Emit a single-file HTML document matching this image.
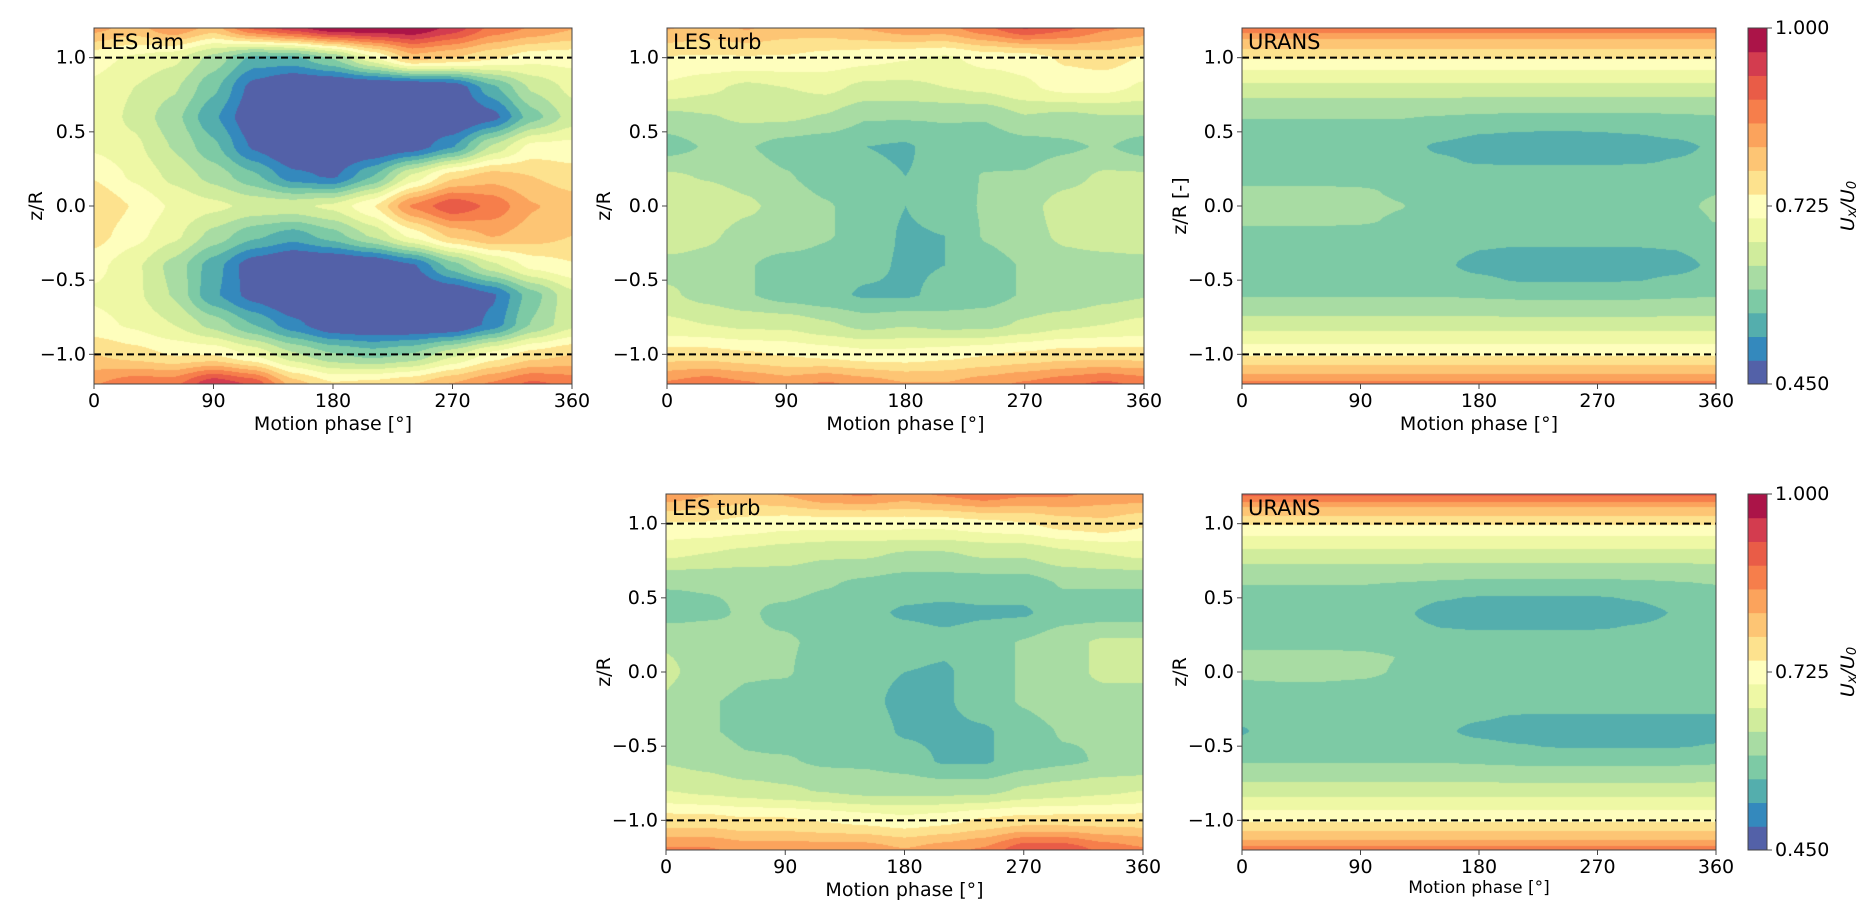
<!DOCTYPE html>
<html><head><meta charset="utf-8">
<style>
body{margin:0;background:#fff;width:1869px;height:918px;overflow:hidden;position:relative;font-family:"DejaVu Sans","Liberation Sans",sans-serif;}
canvas{position:absolute;}
svg{position:absolute;left:0;top:0;}
</style></head>
<body>
<svg id="ov" width="1869" height="918"></svg>
<script>
// ---- data ----
const levelColors=["#5361a8","#3489bd","#54aead","#7dcaa5","#a8dca3","#d0ec9c","#eef8a5","#fefebd","#fde28e","#fdc574","#fba35c","#f67e4b","#e95c47","#d33c4f","#ab1448"];
const vmin=0.45, vmax=1.0;
const phases=[0,30,60,90,120,150,180,210,240,270,300,330,360];
const zLES=[1.2,1.0,0.8,0.6,0.4,0.2,0.0,-0.2,-0.4,-0.6,-0.8,-1.0,-1.2];
const zURANS=[1.2,1.1,1.0,0.9,0.8,0.7,0.6,0.5,0.4,0.3,0.2,0.1,0.0,-0.1,-0.2,-0.3,-0.4,-0.5,-0.6,-0.7,-0.8,-0.9,-1.0,-1.1,-1.2];
const xTicks=[0,90,180,270,360];
const yTicks=[1.0,0.5,0.0,-0.5,-1.0];
const cbTicks=[1.000,0.725,0.450];
const lesLam=[
[0.83,0.80,0.85,0.80,0.90,0.95,1.0,1.0,1.0,0.95,0.88,0.85,0.82],
[0.72,0.70,0.68,0.62,0.55,0.55,0.60,0.70,0.80,0.78,0.75,0.72,0.72],
[0.70,0.67,0.64,0.57,0.47,0.43,0.43,0.43,0.43,0.45,0.55,0.64,0.68],
[0.70,0.66,0.61,0.53,0.45,0.43,0.43,0.43,0.43,0.43,0.47,0.58,0.65],
[0.70,0.68,0.63,0.57,0.48,0.43,0.43,0.44,0.46,0.52,0.64,0.72,0.72],
[0.74,0.70,0.66,0.62,0.57,0.50,0.48,0.56,0.68,0.77,0.80,0.78,0.76],
[0.78,0.74,0.70,0.68,0.66,0.66,0.68,0.74,0.86,0.92,0.88,0.82,0.80],
[0.76,0.72,0.68,0.62,0.57,0.54,0.58,0.64,0.72,0.79,0.82,0.80,0.78],
[0.72,0.68,0.62,0.54,0.46,0.43,0.43,0.44,0.48,0.58,0.66,0.72,0.74],
[0.70,0.68,0.63,0.53,0.47,0.43,0.43,0.43,0.43,0.44,0.48,0.58,0.66],
[0.72,0.70,0.67,0.62,0.56,0.50,0.45,0.44,0.44,0.44,0.50,0.60,0.66],
[0.78,0.76,0.74,0.74,0.70,0.64,0.60,0.58,0.60,0.66,0.72,0.76,0.78],
[0.85,0.88,0.88,0.96,0.92,0.80,0.75,0.76,0.78,0.82,0.86,0.90,0.88]];
const lesTurbTop=[
[0.82,0.80,0.82,0.80,0.80,0.82,0.84,0.84,0.88,0.93,0.90,0.86,0.84],
[0.74,0.74,0.74,0.74,0.73,0.72,0.71,0.70,0.72,0.72,0.75,0.76,0.74],
[0.70,0.68,0.66,0.67,0.68,0.66,0.66,0.67,0.68,0.70,0.72,0.72,0.70],
[0.62,0.63,0.64,0.64,0.63,0.60,0.60,0.60,0.60,0.63,0.62,0.63,0.63],
[0.58,0.60,0.60,0.58,0.57,0.56,0.555,0.58,0.57,0.58,0.59,0.60,0.58],
[0.64,0.63,0.62,0.60,0.58,0.57,0.56,0.57,0.60,0.60,0.62,0.64,0.64],
[0.66,0.66,0.64,0.62,0.60,0.58,0.56,0.58,0.60,0.62,0.65,0.66,0.66],
[0.66,0.64,0.62,0.62,0.60,0.58,0.555,0.56,0.60,0.62,0.64,0.65,0.66],
[0.62,0.62,0.60,0.58,0.58,0.57,0.555,0.56,0.58,0.60,0.62,0.62,0.62],
[0.64,0.62,0.60,0.58,0.57,0.555,0.555,0.57,0.58,0.60,0.60,0.62,0.63],
[0.68,0.67,0.66,0.66,0.64,0.62,0.63,0.62,0.62,0.64,0.66,0.67,0.68],
[0.76,0.76,0.75,0.74,0.73,0.72,0.72,0.73,0.74,0.75,0.76,0.76,0.76],
[0.86,0.88,0.86,0.84,0.86,0.84,0.82,0.82,0.84,0.86,0.88,0.90,0.88]];
const lesTurbBot=[
[0.84,0.82,0.80,0.82,0.85,0.86,0.84,0.86,0.88,0.86,0.86,0.84,0.84],
[0.74,0.74,0.73,0.72,0.72,0.72,0.72,0.72,0.73,0.74,0.76,0.77,0.75],
[0.68,0.67,0.66,0.65,0.64,0.64,0.63,0.63,0.64,0.64,0.66,0.67,0.68],
[0.60,0.60,0.60,0.61,0.60,0.59,0.58,0.58,0.58,0.58,0.60,0.60,0.60],
[0.58,0.59,0.60,0.59,0.58,0.57,0.555,0.55,0.555,0.555,0.58,0.58,0.58],
[0.63,0.62,0.60,0.60,0.59,0.58,0.58,0.57,0.58,0.60,0.62,0.64,0.64],
[0.64,0.62,0.60,0.60,0.58,0.57,0.56,0.555,0.58,0.60,0.62,0.64,0.64],
[0.63,0.60,0.59,0.58,0.58,0.57,0.55,0.555,0.58,0.60,0.62,0.62,0.62],
[0.62,0.60,0.59,0.58,0.58,0.58,0.555,0.55,0.555,0.58,0.60,0.60,0.60],
[0.63,0.62,0.60,0.60,0.59,0.59,0.58,0.555,0.555,0.58,0.59,0.60,0.60],
[0.67,0.66,0.65,0.64,0.63,0.62,0.62,0.62,0.62,0.64,0.65,0.66,0.67],
[0.76,0.76,0.75,0.75,0.74,0.73,0.72,0.73,0.75,0.76,0.76,0.76,0.76],
[0.86,0.86,0.84,0.84,0.84,0.84,0.82,0.84,0.86,0.92,0.92,0.88,0.86]];
const uransTop=[
[0.875,0.875,0.875,0.875,0.875,0.875,0.875,0.875,0.875,0.875,0.875,0.875,0.875],
[0.80,0.80,0.80,0.80,0.80,0.80,0.80,0.80,0.80,0.80,0.80,0.80,0.80],
[0.745,0.745,0.745,0.745,0.745,0.745,0.745,0.745,0.745,0.745,0.745,0.745,0.745],
[0.70,0.70,0.70,0.70,0.70,0.70,0.70,0.70,0.70,0.70,0.70,0.70,0.70],
[0.66,0.66,0.66,0.66,0.66,0.66,0.66,0.66,0.66,0.66,0.66,0.66,0.66],
[0.625,0.625,0.625,0.625,0.625,0.625,0.622,0.62,0.62,0.62,0.62,0.62,0.622],
[0.598,0.598,0.598,0.598,0.598,0.595,0.592,0.59,0.59,0.59,0.59,0.592,0.595],
[0.585,0.585,0.585,0.585,0.582,0.572,0.562,0.56,0.559,0.56,0.562,0.568,0.578],
[0.58,0.58,0.58,0.58,0.572,0.555,0.545,0.542,0.54,0.542,0.545,0.552,0.565],
[0.575,0.575,0.575,0.575,0.572,0.565,0.557,0.555,0.555,0.555,0.557,0.562,0.57],
[0.58,0.58,0.58,0.58,0.58,0.58,0.58,0.58,0.58,0.58,0.58,0.58,0.58],
[0.605,0.605,0.604,0.601,0.592,0.583,0.58,0.58,0.58,0.58,0.58,0.585,0.595],
[0.612,0.612,0.61,0.607,0.598,0.585,0.58,0.578,0.578,0.578,0.58,0.588,0.603],
[0.604,0.605,0.604,0.601,0.592,0.582,0.58,0.58,0.58,0.58,0.58,0.582,0.598],
[0.58,0.58,0.58,0.58,0.58,0.58,0.58,0.58,0.58,0.58,0.58,0.58,0.58],
[0.575,0.575,0.575,0.575,0.572,0.568,0.56,0.555,0.555,0.555,0.556,0.56,0.57],
[0.578,0.578,0.578,0.577,0.573,0.565,0.552,0.543,0.54,0.54,0.543,0.55,0.566],
[0.58,0.58,0.58,0.58,0.578,0.572,0.565,0.558,0.557,0.557,0.559,0.565,0.575],
[0.595,0.595,0.595,0.595,0.595,0.595,0.592,0.59,0.59,0.59,0.59,0.592,0.595],
[0.62,0.62,0.62,0.62,0.62,0.62,0.618,0.615,0.615,0.615,0.615,0.618,0.62],
[0.655,0.655,0.655,0.655,0.655,0.655,0.655,0.655,0.655,0.655,0.655,0.655,0.655],
[0.695,0.695,0.695,0.695,0.695,0.695,0.695,0.695,0.695,0.695,0.695,0.695,0.695],
[0.74,0.74,0.74,0.74,0.74,0.74,0.74,0.74,0.74,0.74,0.74,0.74,0.74],
[0.795,0.795,0.795,0.795,0.795,0.795,0.795,0.795,0.795,0.795,0.795,0.795,0.795],
[0.865,0.865,0.865,0.865,0.865,0.865,0.865,0.865,0.865,0.865,0.865,0.865,0.865]];
const uransBot=[
[0.90,0.90,0.90,0.90,0.90,0.90,0.90,0.90,0.90,0.90,0.90,0.90,0.90],
[0.81,0.81,0.81,0.81,0.81,0.81,0.81,0.81,0.81,0.81,0.81,0.81,0.81],
[0.745,0.745,0.745,0.745,0.745,0.745,0.745,0.745,0.745,0.745,0.745,0.745,0.745],
[0.70,0.70,0.70,0.70,0.70,0.70,0.70,0.70,0.70,0.70,0.70,0.70,0.70],
[0.66,0.66,0.66,0.66,0.66,0.66,0.66,0.66,0.66,0.66,0.66,0.66,0.66],
[0.625,0.625,0.625,0.625,0.625,0.622,0.62,0.62,0.62,0.62,0.62,0.622,0.625],
[0.598,0.598,0.598,0.598,0.596,0.593,0.59,0.59,0.59,0.59,0.592,0.595,0.598],
[0.585,0.585,0.585,0.583,0.575,0.562,0.558,0.557,0.557,0.558,0.562,0.572,0.58],
[0.58,0.58,0.58,0.576,0.565,0.55,0.543,0.54,0.54,0.543,0.55,0.562,0.575],
[0.575,0.575,0.575,0.574,0.568,0.56,0.557,0.557,0.557,0.558,0.562,0.568,0.575],
[0.585,0.585,0.585,0.585,0.58,0.58,0.58,0.58,0.58,0.58,0.58,0.58,0.582],
[0.607,0.608,0.608,0.604,0.596,0.584,0.58,0.58,0.58,0.58,0.58,0.582,0.592],
[0.605,0.607,0.607,0.603,0.594,0.583,0.58,0.58,0.578,0.578,0.58,0.582,0.59],
[0.59,0.592,0.592,0.59,0.585,0.58,0.58,0.58,0.58,0.58,0.58,0.58,0.582],
[0.578,0.58,0.58,0.58,0.58,0.58,0.58,0.58,0.58,0.58,0.58,0.578,0.575],
[0.565,0.57,0.575,0.575,0.575,0.57,0.563,0.558,0.557,0.557,0.557,0.557,0.558],
[0.558,0.572,0.578,0.578,0.575,0.565,0.553,0.545,0.54,0.54,0.54,0.543,0.548],
[0.568,0.575,0.58,0.58,0.58,0.575,0.568,0.562,0.558,0.557,0.557,0.558,0.562],
[0.595,0.595,0.595,0.595,0.595,0.595,0.592,0.59,0.59,0.59,0.59,0.59,0.592],
[0.62,0.62,0.62,0.62,0.62,0.62,0.618,0.615,0.615,0.615,0.615,0.615,0.618],
[0.655,0.655,0.655,0.655,0.655,0.655,0.655,0.655,0.655,0.655,0.655,0.655,0.655],
[0.695,0.695,0.695,0.695,0.695,0.695,0.695,0.695,0.695,0.695,0.695,0.695,0.695],
[0.74,0.74,0.74,0.74,0.74,0.74,0.74,0.74,0.74,0.74,0.74,0.74,0.74],
[0.795,0.795,0.795,0.795,0.795,0.795,0.795,0.795,0.795,0.795,0.795,0.795,0.795],
[0.87,0.87,0.87,0.87,0.87,0.87,0.87,0.87,0.87,0.87,0.87,0.87,0.87]];

// ---- layout ----
const panels=[
 {name:'les-lam-top',title:'LES lam',x:94,y:28,w:478,h:356,grid:lesLam,zs:zLES,ylab:'z/R',ylx:36,xlabSize:19},
 {name:'les-turb-top',title:'LES turb',x:667,y:28,w:477,h:356,grid:lesTurbTop,zs:zLES,ylab:'z/R',ylx:604,xlabSize:19},
 {name:'urans-top',title:'URANS',x:1242,y:28,w:474,h:356,grid:uransTop,zs:zURANS,ylab:'z/R [-]',ylx:1180,xlabSize:19},
 {name:'les-turb-bottom',title:'LES turb',x:666,y:494,w:477,h:356,grid:lesTurbBot,zs:zLES,ylab:'z/R',ylx:604,xlabSize:19},
 {name:'urans-bottom',title:'URANS',x:1242,y:494,w:474,h:356,grid:uransBot,zs:zURANS,ylab:'z/R',ylx:1180,xlabSize:17}
];
const colorbars=[{name:'colorbar-top',x:1748,y:28,w:19,h:356},{name:'colorbar-bottom',x:1748,y:494,w:19,h:356}];
const NS='http://www.w3.org/2000/svg';
const ov=document.getElementById('ov');
function hex(c){return [parseInt(c.substr(1,2),16),parseInt(c.substr(3,2),16),parseInt(c.substr(5,2),16)];}
const rgb=levelColors.map(hex);
function levelOf(v){let i=Math.floor((v-vmin)/(vmax-vmin)*levelColors.length);return Math.max(0,Math.min(levelColors.length-1,i));}
function sample(grid,zs,ph,z){
  const fx=ph/30; let i=Math.min(phases.length-2,Math.floor(fx)); const tx=fx-i;
  const zstep=zs[0]-zs[1]; const fy=(zs[0]-z)/zstep; let j=Math.max(0,Math.min(zs.length-2,Math.floor(fy))); const ty=Math.max(0,Math.min(1,fy-j));
  const sx=tx*tx*(3-2*tx), sy=ty*ty*(3-2*ty);
  const a=grid[j][i],b=grid[j][i+1],c=grid[j+1][i],d=grid[j+1][i+1];
  const lx=(tx+sx)/2, ly=(ty+sy)/2;
  return (a*(1-lx)+b*lx)*(1-ly)+(c*(1-lx)+d*lx)*ly;
}
function el(tag,attrs,parent){const e=document.createElementNS(NS,tag);for(const k in attrs)e.setAttribute(k,attrs[k]);(parent||ov).appendChild(e);return e;}
function txt(s,x,y,size,anchor,rot,name){
  const t=el('text',{x:x,y:y,'font-size':size,'text-anchor':anchor||'middle','font-family':'DejaVu Sans, Liberation Sans, sans-serif','dominant-baseline':'central'});
  if(rot)t.setAttribute('transform','rotate(-90 '+x+' '+y+')');
  t.textContent=s;
  
  
  return t;
}
panels.forEach(p=>{
  const xs=ph=>p.x+ph/360*p.w;
  const ys=z=>p.y+(1.2-z)/2.4*p.h;
  const cv=document.createElement('canvas');
  cv.width=p.w;cv.height=p.h;cv.style.left=p.x+'px';cv.style.top=p.y+'px';
  
  
  document.body.insertBefore(cv,ov);
  const ctx=cv.getContext('2d');const img=ctx.createImageData(p.w,p.h);
  for(let py=0;py<p.h;py++){const z=1.2-(py+0.5)/p.h*2.4;
    for(let px=0;px<p.w;px++){const ph=(px+0.5)/p.w*360;
      const c=rgb[levelOf(sample(p.grid,p.zs,ph,z))];const k=(py*p.w+px)*4;
      img.data[k]=c[0];img.data[k+1]=c[1];img.data[k+2]=c[2];img.data[k+3]=255;}}
  ctx.putImageData(img,0,0);
  [1.0,-1.0].forEach(z=>{const l=el('line',{x1:p.x,x2:p.x+p.w,y1:ys(z),y2:ys(z),stroke:'#000','stroke-width':2,'stroke-dasharray':'7,4'});
    });
  const fr=el('rect',{x:p.x,y:p.y,width:p.w,height:p.h,fill:'none',stroke:'#444','stroke-width':1});
  
  xTicks.forEach(v=>{el('line',{x1:xs(v),x2:xs(v),y1:p.y+p.h,y2:p.y+p.h+5,stroke:'#444'});txt(String(v),xs(v),p.y+p.h+17,19,'middle',false,'x-tick-label');});
  yTicks.forEach(v=>{el('line',{x1:p.x-5,x2:p.x,y1:ys(v),y2:ys(v),stroke:'#444'});txt(v.toFixed(1).replace('-','\u2212'),p.x-8,ys(v),19,'end',false,'y-tick-label');});
  txt('Motion phase [°]',p.x+p.w/2,p.y+p.h+(p.xlabSize<19?38:40),p.xlabSize,'middle',false,'x-axis-title');
  txt(p.ylab,p.ylx,p.y+p.h/2,19,'middle',true,'y-axis-title');
  txt(p.title,p.x+6,p.y+14,21,'start',false,'panel-title');
});
colorbars.forEach(cb=>{
  const n=levelColors.length;
  levelColors.forEach((c,i)=>{const r=el('rect',{x:cb.x,y:cb.y+cb.h-(i+1)*cb.h/n,width:cb.w,height:cb.h/n+0.5,fill:c});
    });
  el('rect',{x:cb.x,y:cb.y,width:cb.w,height:cb.h,fill:'none',stroke:'#444'});
  cbTicks.forEach(v=>{const y=cb.y+(vmax-v)/(vmax-vmin)*cb.h;el('line',{x1:cb.x+cb.w,x2:cb.x+cb.w+5,y1:y,y2:y,stroke:'#444'});
    txt(v.toFixed(3),cb.x+cb.w+8,y,19,'start',false,'colorbar-tick-label');});
  const cx=cb.x+cb.w+81, cy=cb.y+cb.h/2;
  const t=el('text',{x:cx,y:cy,'font-size':19,'text-anchor':'middle','font-family':'DejaVu Sans, sans-serif','dominant-baseline':'central','font-style':'italic',transform:'rotate(-90 '+cx+' '+cy+')'});
  t.innerHTML='U<tspan font-size="13" dy="4">x</tspan><tspan dy="-4">/U</tspan><tspan font-size="13" dy="4">0</tspan>';
  
});
</script>
</body></html>
